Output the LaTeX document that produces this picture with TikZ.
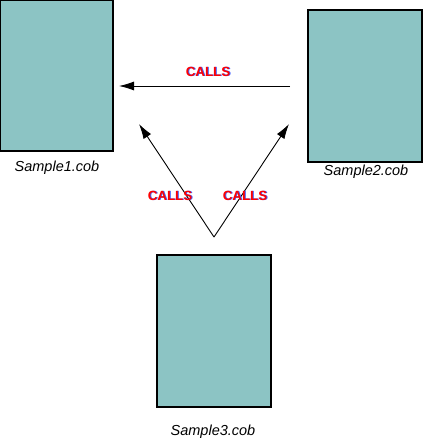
\documentclass[tikz,border=0pt]{standalone}
\usepackage{fontspec}
\setmainfont{Liberation Sans}
\usetikzlibrary{arrows.meta,calc}
\definecolor{boxfill}{HTML}{8CC4C4}
\definecolor{callred}{HTML}{FF0000}
\definecolor{callblue}{HTML}{4060FF}
\tikzset{
  filebox/.style={draw=black, line width=1.1pt, fill=boxfill, inner sep=0pt},
  filename/.style={font=\fontsize{14.5}{16}\selectfont\itshape, inner sep=0pt},
  callarrow/.style={line width=0.9pt, -{Latex[length=15pt,width=9pt]}},
  callsfont/.style={font=\fontsize{13.3}{15}\selectfont\bfseries, inner sep=0pt},
}
\newcommand{\callslabel}[2]{%
  \node[callsfont, text=callblue] at ($(#1)+(1.0,0.3)$) {CALLS};
  \node[callsfont, text=callred] (#2) at (#1) {CALLS};}
\begin{document}
\begin{tikzpicture}[x=1pt,y=-1pt]
\useasboundingbox (0,0) rectangle (424,441);
\node[filebox, minimum width=113pt, minimum height=151pt] (b1) at (56.5,75.5) {};
\node[filebox, minimum width=114pt, minimum height=152pt] (b2) at (365,86) {};
\node[filebox, minimum width=114pt, minimum height=152pt] (b3) at (214,331) {};
\node[filename] (n1) at (57,168) {Sample1.cob};
\node[filename] (n2) at (366,172) {Sample2.cob};
\node[filename] (n3) at (213,432) {Sample3.cob};
\coordinate (s1) at (290,86);
\coordinate (t1) at (119,86);
\coordinate (s3) at (214,237);
\coordinate (t2) at (139,124);
\coordinate (t3) at (289,124);
\draw[callarrow] (s1) -- (t1);
\draw[callarrow] (s3) -- (t2);
\draw[callarrow] (s3) -- (t3);
\coordinate (l1) at (208,72);
\coordinate (l2) at (170,196);
\coordinate (l3) at (245,196);
\callslabel{l1}{c1}
\callslabel{l2}{c2}
\callslabel{l3}{c3}
\end{tikzpicture}
\end{document}
